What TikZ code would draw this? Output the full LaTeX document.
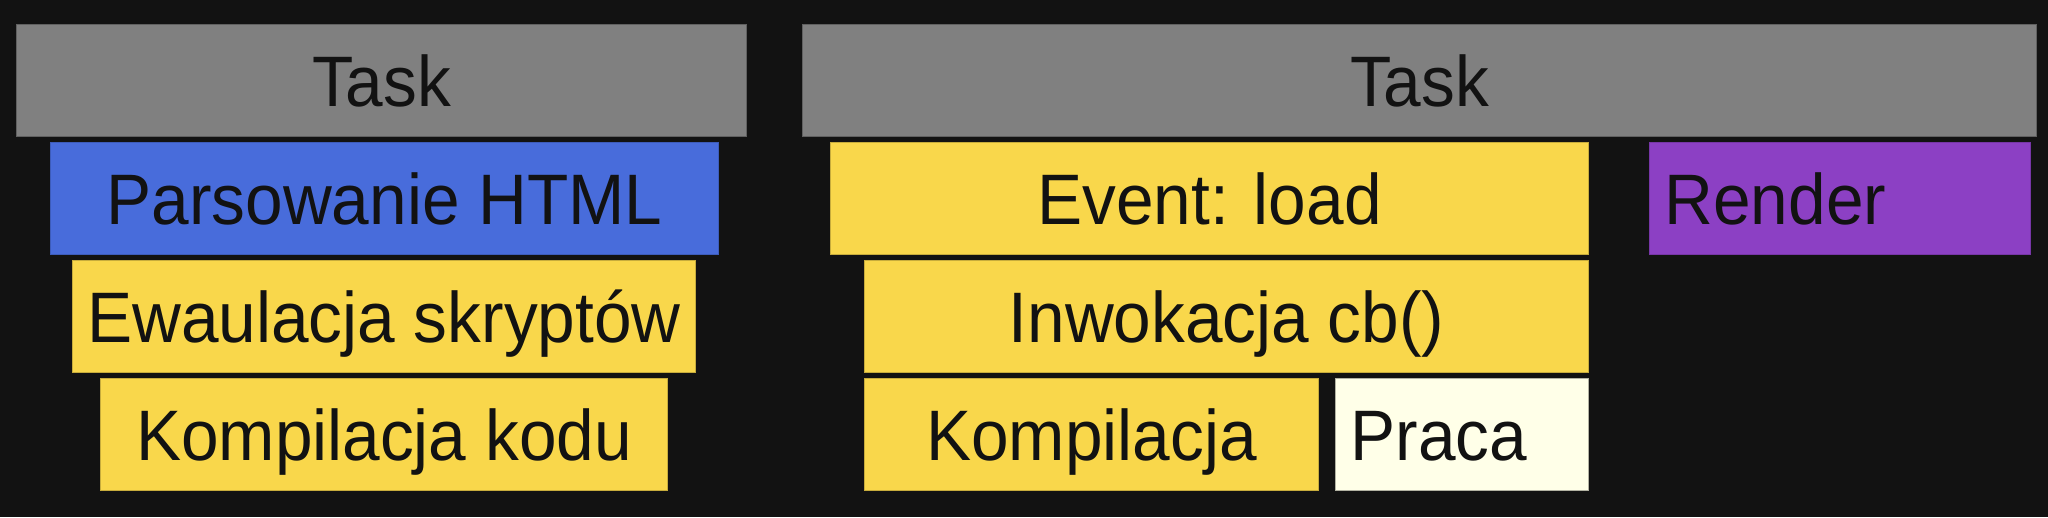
\documentclass[tikz,border=0pt]{standalone}
\usepackage{fontspec}
\setmainfont[FakeStretch=0.945]{Liberation Sans}
\definecolor{bgc}{HTML}{121212}
\definecolor{cGray}{HTML}{808080}
\definecolor{cBlue}{HTML}{486CDB}
\definecolor{cYellow}{HTML}{F9D74B}
\definecolor{cLight}{HTML}{FFFFE8}
\definecolor{cPurple}{HTML}{8C40C4}
\definecolor{txt}{HTML}{121212}
\tikzset{
  box/.style={rectangle, anchor=north west, inner sep=0pt, minimum height=112pt,
    line width=1pt, text=txt, font=\fontsize{71.5}{85}\selectfont,
    text height=52pt, text depth=0pt},
  lbox/.style={box, align=left, inner xsep=15pt},
}
\begin{document}
\begin{tikzpicture}[x=1pt,y=-1pt]
\fill[bgc] (0,0) rectangle (2048,517);
\useasboundingbox (0,0) rectangle (2048,517);
% left
\node[box, fill=cGray, draw=cGray!75!black, minimum width=730pt] (t1) at (16,24) {Task};
\node[box, fill=cBlue, draw=cBlue!85!black, minimum width=668pt] (p1) at (50,142) {Parsowanie HTML};
\node[box, fill=cYellow, draw=cYellow!80!black, minimum width=623pt] (e1) at (72,260) {Ewaulacja skryptów};
\node[box, fill=cYellow, draw=cYellow!80!black, minimum width=567pt] (k1) at (100,378) {Kompilacja kodu};
% right
\node[box, fill=cGray, draw=cGray!75!black, minimum width=1234pt] (t2) at (802,24) {Task};
\node[box, fill=cYellow, draw=cYellow!80!black, minimum width=758pt] (ev) at (830,142) {Event: load};
\node[box, fill=cYellow, draw=cYellow!80!black, minimum width=724pt] (inv) at (864,260) {Inwokacja cb()};
\node[box, fill=cYellow, draw=cYellow!80!black, minimum width=454pt] (k2) at (864,378) {Kompilacja};
\node[lbox, fill=cLight, draw=cLight!70!black, minimum width=253pt, text width=223pt] (pr) at (1335,378) {Praca};
\node[lbox, fill=cPurple, draw=cPurple!85!black, minimum width=381pt, text width=351pt] (re) at (1649,142) {Render};
\end{tikzpicture}
\end{document}
